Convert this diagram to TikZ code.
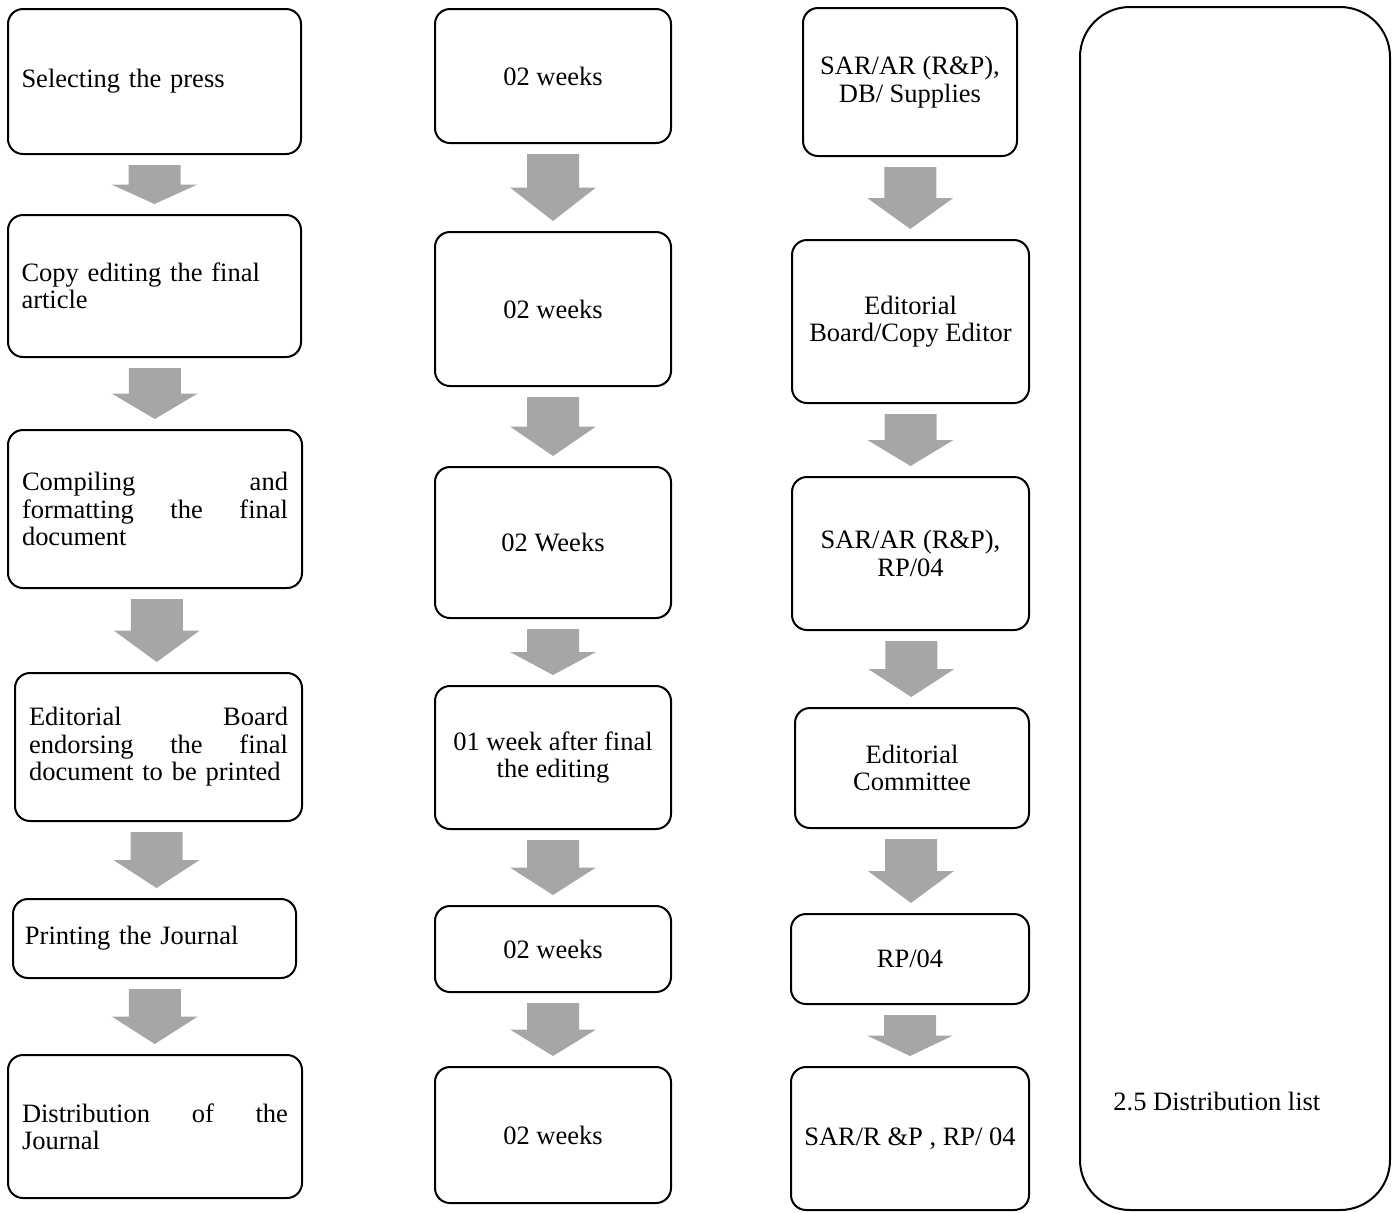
\documentclass[tikz,border=0pt]{standalone}
\usepackage{fontspec}
\setmainfont{Liberation Serif}
\usetikzlibrary{calc}
\definecolor{flowgray}{HTML}{A6A6A6}
\tikzset{
  stepbox/.style={draw=black, line width=1pt, rounded corners=7.5pt, fill=white,
    inner sep=0pt, font=\fontsize{13.25}{13.7}\selectfont,
    execute at begin node=\setlength\parindent{0pt}},
  leftbox/.style={stepbox, align=left, text width=133pt},
  midbox/.style={stepbox, align=center},
  flowfill/.style={fill=flowgray, draw=none},
}
% gray block arrow from the bottom of one box to the top of the next
\newcommand\flowarrow[2]{%
  \path[flowfill] let \p1=(#1.south), \p2=(#2.north), \p3=($(\p1)!0.5!(\p2)$) in
    ({\x3-13pt},{\y1-5pt}) -- ({\x3+13pt},{\y1-5pt}) -- ({\x3+13pt},{\y3})
    -- ({\x3+21.5pt},{\y3}) -- ({\x3},{\y2+5pt}) -- ({\x3-21.5pt},{\y3})
    -- ({\x3-13pt},{\y3}) -- cycle;}
\begin{document}
\begin{tikzpicture}[x=0.5pt, y=-0.5pt]
\useasboundingbox (0,0) rectangle (1399,1212);

% activities
\node[leftbox, minimum width=146.5pt, minimum height=72.5pt] (a1) at (154.5,81.5) {Selecting the press};
\node[leftbox, minimum width=146.5pt, minimum height=71pt] (a2) at (154.5,286) {Copy editing the final\\article};
\node[leftbox, minimum width=147pt, minimum height=79pt] (a3) at (155,509) {Compiling\hfill and\\formatting\hfill the\hfill final\\document};
\node[leftbox, text width=129.5pt, minimum width=143.5pt, minimum height=74pt] (a4) at (158.5,747) {Editorial\hfill Board\\endorsing\hfill the\hfill final\\document to be printed};
\node[leftbox, text width=129.5pt, minimum width=141.5pt, minimum height=39.5pt] (a5) at (154.5,938.5) {Printing the Journal};
\node[leftbox, minimum width=147pt, minimum height=71.5pt] (a6) at (155,1126.5) {Distribution\hfill of\hfill the\\Journal};

% time frames
\node[midbox, minimum width=118pt, minimum height=67pt] (b1) at (553,76) {02 weeks};
\node[midbox, minimum width=118pt, minimum height=77pt] (b2) at (553,309) {02 weeks};
\node[midbox, minimum width=118pt, minimum height=75.5pt] (b3) at (553,542.5) {02 Weeks};
\node[midbox, minimum width=118pt, minimum height=71.5pt] (b4) at (553,757.5) {01 week after final\\the editing};
\node[midbox, minimum width=118pt, minimum height=43pt] (b5) at (553,949) {02 weeks};
\node[midbox, minimum width=118pt, minimum height=68pt] (b6) at (553,1135) {02 weeks};

% responsibilities
\node[midbox, minimum width=107pt, minimum height=74pt] (c1) at (910,82) {SAR/AR (R\&P),\\DB/ Supplies};
\node[midbox, minimum width=118.5pt, minimum height=81.5pt] (c2) at (910.5,321.5) {Editorial\\Board/Copy Editor};
\node[midbox, minimum width=118.5pt, minimum height=76.5pt] (c3) at (910.5,553.5) {SAR/AR (R\&P),\\RP/04};
\node[midbox, minimum width=117pt, minimum height=60pt] (c4) at (912,768) {Editorial\\Committee};
\node[midbox, minimum width=119pt, minimum height=45pt] (c5) at (910,959) {RP/04};
\node[midbox, minimum width=119pt, minimum height=71.5pt] (c6) at (910,1138.5) {SAR/R \&P , RP/ 04};

% distribution panel
\node[draw=black, line width=1pt, rounded corners=25pt, minimum width=155pt, minimum height=601.5pt] (d) at (1235,608.5) {};
\node[anchor=west, inner sep=0pt, font=\fontsize{13.25}{13.7}\selectfont] (dlabel) at (1113,1101) {2.5 Distribution list};

% flow arrows
\foreach \col in {a,b,c}{
  \foreach \i [evaluate=\i as \j using int(\i+1)] in {1,...,5}{
    \flowarrow{\col\i}{\col\j}
  }
}
\end{tikzpicture}
\end{document}
